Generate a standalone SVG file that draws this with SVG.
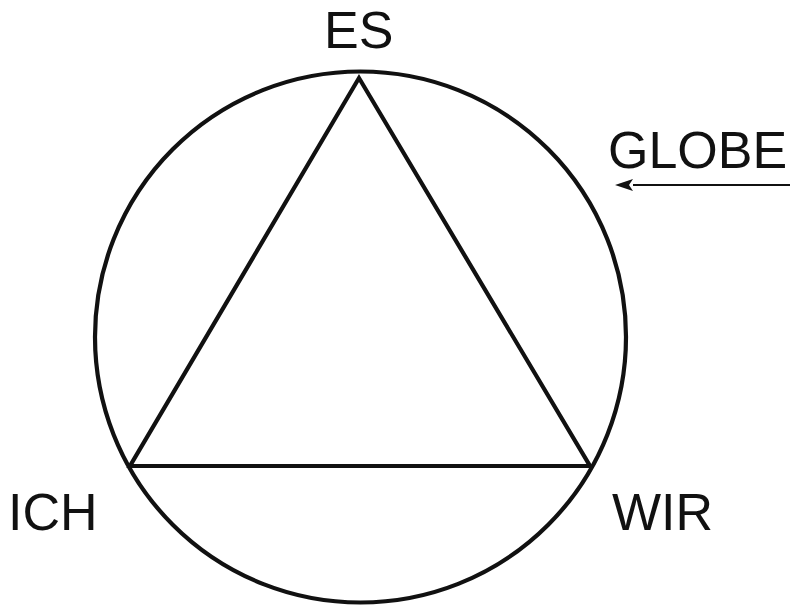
<svg xmlns="http://www.w3.org/2000/svg" width="790" height="605" viewBox="0 0 790 605">
<style>
.lbl{font-family:"Liberation Sans",Arial,sans-serif;font-size:52px;fill:#111}
.shape{fill:none;stroke:#111;stroke-width:4.2}
</style>
<rect width="790" height="605" fill="#fff"/>
<g id="globe"><circle class="shape" cx="360.5" cy="337" r="265.5"/></g>
<g id="triangle"><polygon class="shape" points="359,78 130,466 590,466" stroke-linejoin="miter"/></g>
<g id="connectors">
<line x1="790" y1="185" x2="633" y2="185" stroke="#111" stroke-width="2"/>
<path d="M615,185 L633,179 L629,185 L633,191 Z" fill="#111"/>
</g>
<g id="es"><text class="lbl" x="324" y="48">ES</text></g>
<g id="globe-label"><text class="lbl" x="608" y="168">GLOBE</text></g>
<g id="ich"><text class="lbl" x="8" y="530">ICH</text></g>
<g id="wir"><text class="lbl" x="612" y="530">WIR</text></g>
</svg>
